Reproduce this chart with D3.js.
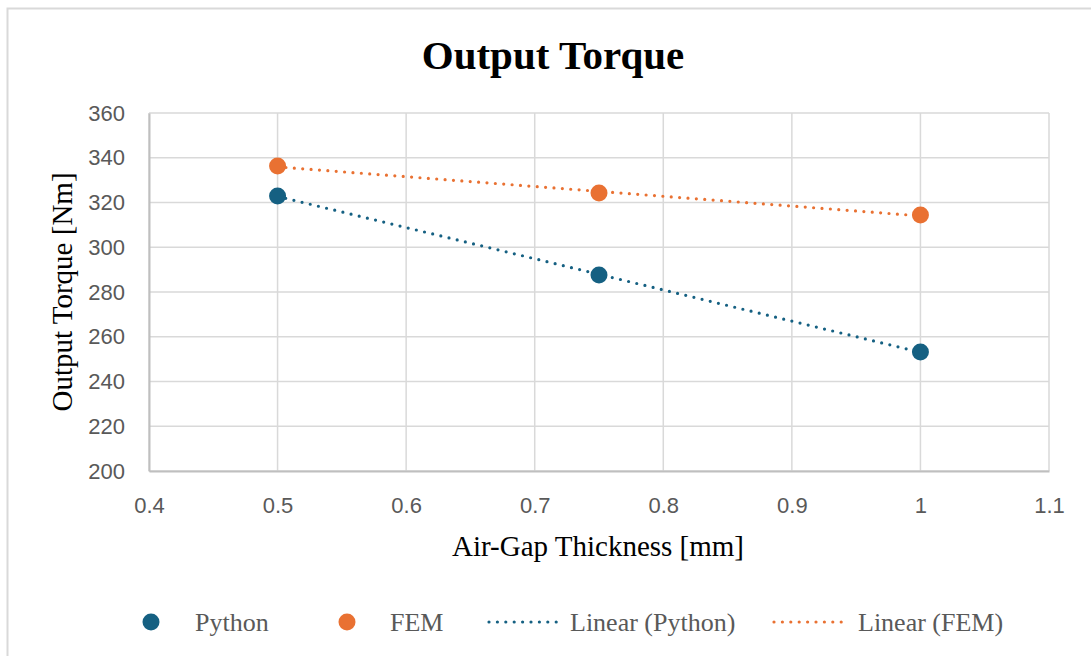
<!DOCTYPE html>
<html>
<head>
<meta charset="utf-8">
<script src="https://cdn.jsdelivr.net/npm/d3@7"></script>
<style>
  html, body { margin: 0; padding: 0; background: #fff; }
  svg { display: block; }
</style>
</head>
<body>
<svg id="chart" width="1091" height="656"></svg>
<script>
// Air-gap thickness values (mm)
const gaps = [0.5, 0.75, 1.0];
// Output torque (Nm) per method
const pythonTorque = [322.9, 287.6, 253.2];
const femTorque = [336.3, 324.2, 314.4];
// Axis ticks
const xTicks = [0.4, 0.5, 0.6, 0.7, 0.8, 0.9, 1.0, 1.1];
const yTicks = [200, 220, 240, 260, 280, 300, 320, 340, 360];

const series = [
  { name: "Python", values: pythonTorque, color: "#156082" },
  { name: "FEM", values: femTorque, color: "#E97132" }
];

const svg = d3.select("#chart");
const W = 1091, H = 656;
const plot = { left: 149, right: 1049, top: 113, bottom: 471 };
const serif = "'Liberation Serif', 'Times New Roman', serif";
const sans = "'Liberation Sans', Arial, sans-serif";

// Chart frame
svg.append("rect")
  .attr("x", 7.5).attr("y", 8.5)
  .attr("width", W + 20).attr("height", H + 20)
  .attr("fill", "#fff").attr("stroke", "#d9d9d9").attr("stroke-width", 2);

const x = d3.scaleLinear().domain([0.4, 1.1]).range([plot.left, plot.right]);
const y = d3.scaleLinear().domain([200, 360]).range([plot.bottom, plot.top]);

// Gridlines
svg.append("g")
  .selectAll("line")
  .data(xTicks)
  .join("line")
  .attr("x1", d => x(d)).attr("x2", d => x(d))
  .attr("y1", plot.top).attr("y2", plot.bottom)
  .attr("stroke", "#d9d9d9").attr("stroke-width", 1.5);
svg.append("g")
  .selectAll("line")
  .data(yTicks)
  .join("line")
  .attr("x1", plot.left).attr("x2", plot.right)
  .attr("y1", d => y(d)).attr("y2", d => y(d))
  .attr("stroke", "#d9d9d9").attr("stroke-width", 1.5);

// Axes
const xAxis = d3.axisBottom(x).tickValues(xTicks).tickSize(0).tickPadding(26)
  .tickFormat(d => d3.format("")(+d.toFixed(1)));
const gx = svg.append("g").attr("transform", `translate(0,${plot.bottom})`).call(xAxis);
gx.select(".domain").attr("stroke", "#bfbfbf").attr("stroke-width", 2);
gx.selectAll("text")
  .attr("fill", "#595959")
  .style("font-family", sans)
  .style("font-size", "22px");

const yAxis = d3.axisLeft(y).tickValues(yTicks).tickSize(0).tickPadding(24);
const gy = svg.append("g").attr("transform", `translate(${plot.left},0)`).call(yAxis);
gy.select(".domain").attr("stroke", "#bfbfbf").attr("stroke-width", 2);
gy.selectAll("text")
  .attr("fill", "#595959")
  .style("font-family", sans)
  .style("font-size", "22px");

// Least-squares trendline for each series
function linearFit(xs, ys) {
  const n = xs.length;
  const mx = d3.mean(xs), my = d3.mean(ys);
  let sxy = 0, sxx = 0;
  for (let i = 0; i < n; i++) {
    sxy += (xs[i] - mx) * (ys[i] - my);
    sxx += (xs[i] - mx) * (xs[i] - mx);
  }
  const b = sxy / sxx;
  return { slope: b, intercept: my - b * mx };
}

const line = d3.line().x(d => x(d[0])).y(d => y(d[1]));

series.forEach(s => {
  const fit = linearFit(gaps, s.values);
  const x0 = d3.min(gaps), x1 = d3.max(gaps);
  const pts = [[x0, fit.intercept + fit.slope * x0], [x1, fit.intercept + fit.slope * x1]];
  svg.append("path")
    .attr("d", line(pts))
    .attr("fill", "none")
    .attr("stroke", s.color)
    .attr("stroke-width", 3.2)
    .attr("stroke-linecap", "round")
    .attr("stroke-dasharray", "0 8.4");
});

series.forEach(s => {
  svg.append("g")
    .selectAll("circle")
    .data(gaps.map((g, i) => [g, s.values[i]]))
    .join("circle")
    .attr("cx", d => x(d[0]))
    .attr("cy", d => y(d[1]))
    .attr("r", 8.5)
    .attr("fill", s.color);
});

// Title
svg.append("text")
  .attr("x", 553).attr("y", 69)
  .attr("text-anchor", "middle")
  .style("font-family", serif)
  .style("font-weight", "bold")
  .style("font-size", "41px")
  .attr("fill", "#000")
  .text("Output Torque");

// Axis titles
svg.append("text")
  .attr("x", 598).attr("y", 556)
  .attr("text-anchor", "middle")
  .style("font-family", serif)
  .style("font-size", "29px")
  .attr("fill", "#000")
  .text("Air-Gap Thickness [mm]");

svg.append("text")
  .attr("transform", "translate(72,292) rotate(-90)")
  .attr("text-anchor", "middle")
  .style("font-family", serif)
  .style("font-size", "29px")
  .attr("fill", "#000")
  .text("Output Torque [Nm]");

// Legend
const legendY = 622;
const legendItems = [
  { type: "point", color: series[0].color, label: "Python", mx: 151, tx: 195 },
  { type: "point", color: series[1].color, label: "FEM", mx: 347, tx: 390 },
  { type: "line", color: series[0].color, label: "Linear (Python)", mx: 489, tx: 570 },
  { type: "line", color: series[1].color, label: "Linear (FEM)", mx: 774, tx: 858 }
];
const lg = svg.append("g");
legendItems.forEach(it => {
  if (it.type === "point") {
    lg.append("circle").attr("cx", it.mx).attr("cy", legendY)
      .attr("r", 8.5).attr("fill", it.color);
  } else {
    lg.append("line")
      .attr("x1", it.mx).attr("x2", it.mx + 71)
      .attr("y1", legendY).attr("y2", legendY)
      .attr("stroke", it.color).attr("stroke-width", 3.2)
      .attr("stroke-linecap", "round").attr("stroke-dasharray", "0 8.4");
  }
  lg.append("text")
    .attr("x", it.tx).attr("y", legendY + 9)
    .style("font-family", serif)
    .style("font-size", "26px")
    .attr("fill", "#595959")
    .text(it.label);
});
</script>
</body>
</html>
